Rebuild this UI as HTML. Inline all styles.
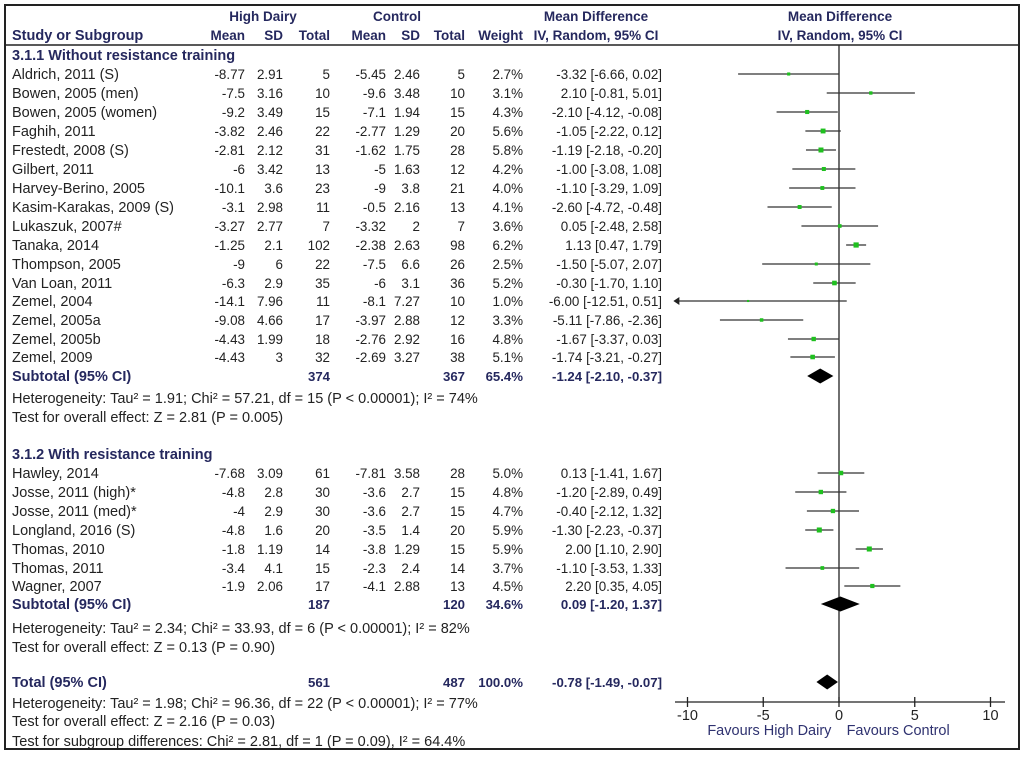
<!DOCTYPE html>
<html><head><meta charset="utf-8"><style>
html,body{margin:0;padding:0;background:#fff;}
svg{display:block;font-family:"Liberation Sans",Arial,sans-serif;font-size:14.5px;}
.t{fill:#222;}
.b{fill:#25285e;font-weight:bold;}
.n{fill:#25285e;font-weight:bold;font-size:13.5px;}
.num{fill:#222;font-size:13.4px;}
.bnum{fill:#25285e;font-weight:bold;font-size:13.2px;}
</style></head><body>
<svg id="chart" width="1024" height="757" viewBox="0 0 1024 757">
<rect x="5" y="5" width="1014" height="744" fill="none" stroke="#222" stroke-width="2"/>
<line x1="5" y1="45" x2="1019" y2="45" stroke="#222" stroke-width="1.5"/>
<g id="hdr">
<text class="n" x="263" y="21" text-anchor="middle">High Dairy</text>
<text class="n" x="397" y="21" text-anchor="middle">Control</text>
<text class="n" x="596" y="21" text-anchor="middle">Mean Difference</text>
<text class="n" x="840" y="21" text-anchor="middle">Mean Difference</text>
<text class="b" x="12" y="40">Study or Subgroup</text>
<text class="n" x="245" y="40" text-anchor="end">Mean</text>
<text class="n" x="283" y="40" text-anchor="end">SD</text>
<text class="n" x="330" y="40" text-anchor="end">Total</text>
<text class="n" x="386" y="40" text-anchor="end">Mean</text>
<text class="n" x="420" y="40" text-anchor="end">SD</text>
<text class="n" x="465" y="40" text-anchor="end">Total</text>
<text class="n" x="523" y="40" text-anchor="end">Weight</text>
<text class="n" x="596" y="40" text-anchor="middle">IV, Random, 95% CI</text>
<text class="n" x="840" y="40" text-anchor="middle">IV, Random, 95% CI</text>
<text class="b" x="12" y="60">3.1.1 Without resistance training</text>
<text class="b" x="12" y="459">3.1.2 With resistance training</text>
</g>
<g id="rows"></g>
<g id="plot"></g>
</svg>
<script>
const studies=["Aldrich, 2011 (S)","Bowen, 2005 (men)","Bowen, 2005 (women)","Faghih, 2011","Frestedt, 2008 (S)","Gilbert, 2011","Harvey-Berino, 2005","Kasim-Karakas, 2009 (S)","Lukaszuk, 2007#","Tanaka, 2014","Thompson, 2005","Van Loan, 2011","Zemel, 2004","Zemel, 2005a","Zemel, 2005b","Zemel, 2009","Hawley, 2014","Josse, 2011 (high)*","Josse, 2011 (med)*","Longland, 2016 (S)","Thomas, 2010","Thomas, 2011","Wagner, 2007"];
const hdMean=["-8.77","-7.5","-9.2","-3.82","-2.81","-6","-10.1","-3.1","-3.27","-1.25","-9","-6.3","-14.1","-9.08","-4.43","-4.43","-7.68","-4.8","-4","-4.8","-1.8","-3.4","-1.9"];
const hdSD=["2.91","3.16","3.49","2.46","2.12","3.42","3.6","2.98","2.77","2.1","6","2.9","7.96","4.66","1.99","3","3.09","2.8","2.9","1.6","1.19","4.1","2.06"];
const hdN=[5,10,15,22,31,13,23,11,7,102,22,35,11,17,18,32,61,30,30,20,14,15,17];
const cMean=["-5.45","-9.6","-7.1","-2.77","-1.62","-5","-9","-0.5","-3.32","-2.38","-7.5","-6","-8.1","-3.97","-2.76","-2.69","-7.81","-3.6","-3.6","-3.5","-3.8","-2.3","-4.1"];
const cSD=["2.46","3.48","1.94","1.29","1.75","1.63","3.8","2.16","2","2.63","6.6","3.1","7.27","2.88","2.92","3.27","3.58","2.7","2.7","1.4","1.29","2.4","2.88"];
const cN=[5,10,15,20,28,12,21,13,7,98,26,36,10,12,16,38,28,15,15,20,15,14,13];
const weights=[2.7,3.1,4.3,5.6,5.8,4.2,4.0,4.1,3.6,6.2,2.5,5.2,1.0,3.3,4.8,5.1,5.0,4.8,4.7,5.9,5.9,3.7,4.5];
const md=[-3.32,2.10,-2.10,-1.05,-1.19,-1.00,-1.10,-2.60,0.05,1.13,-1.50,-0.30,-6.00,-5.11,-1.67,-1.74,0.13,-1.20,-0.40,-1.30,2.00,-1.10,2.20];
const lo=[-6.66,-0.81,-4.12,-2.22,-2.18,-3.08,-3.29,-4.72,-2.48,0.47,-5.07,-1.70,-12.51,-7.86,-3.37,-3.21,-1.41,-2.89,-2.12,-2.23,1.10,-3.53,0.35];
const hi=[0.02,5.01,-0.08,0.12,-0.20,1.08,1.09,-0.48,2.58,1.79,2.07,1.10,0.51,-2.36,0.03,-0.27,1.67,0.49,1.32,-0.37,2.90,1.33,4.05];
const rowY=[79,98,117,136,155,174,193,212,231,250,269,288,306,325,344,362,478,497,516,535,554,573,591];
const pooledLabel=["Subtotal (95% CI)","Subtotal (95% CI)","Total (95% CI)"];
const pooledHdN=[374,187,561];
const pooledCN=[367,120,487];
const pooledW=["65.4%","34.6%","100.0%"];
const pooledMd=[-1.24,0.09,-0.78];
const pooledLo=[-2.10,-1.20,-1.49];
const pooledHi=[-0.37,1.37,-0.07];
const pooledY=[381,609,687];
const notes=["Heterogeneity: Tau² = 1.91; Chi² = 57.21, df = 15 (P < 0.00001); I² = 74%","Test for overall effect: Z = 2.81 (P = 0.005)","Heterogeneity: Tau² = 2.34; Chi² = 33.93, df = 6 (P < 0.00001); I² = 82%","Test for overall effect: Z = 0.13 (P = 0.90)","Heterogeneity: Tau² = 1.98; Chi² = 96.36, df = 22 (P < 0.00001); I² = 77%","Test for overall effect: Z = 2.16 (P = 0.03)","Test for subgroup differences: Chi² = 2.81, df = 1 (P = 0.09), I² = 64.4%"];
const noteY=[403,422,633,652,708,726,746];
const ticks=[-10,-5,0,5,10];
const NS="http://www.w3.org/2000/svg";
const X0=839, SC=15.15, XMIN=-10.8, XMAX=10.9, AXY=702;
const xs=v=>X0+v*SC;
const f2=v=>v.toFixed(2);
const ciTxt=(m,l,h)=>f2(m)+" ["+f2(l)+", "+f2(h)+"]";
function el(tag,attrs,parent,txt){const e=document.createElementNS(NS,tag);for(const k in attrs)e.setAttribute(k,attrs[k]);if(txt!==undefined)e.textContent=txt;parent.appendChild(e);return e;}
const rows=document.getElementById('rows'), plot=document.getElementById('plot');
function txt(x,y,s,anchor,cls,name){const e=el('text',{x:x,y:y,'text-anchor':anchor,'class':cls},rows,s);

return e;}
const zl=el('line',{x1:xs(0),y1:45,x2:xs(0),y2:AXY,stroke:'#222','stroke-width':1.3},plot);


studies.forEach((s,i)=>{const y=rowY[i];
txt(12,y,s,'start','t','study-name');
txt(245,y,hdMean[i],'end','num','hd-mean');
txt(283,y,hdSD[i],'end','num','hd-sd');
txt(330,y,hdN[i],'end','num','hd-total');
txt(386,y,cMean[i],'end','num','control-mean');
txt(420,y,cSD[i],'end','num','control-sd');
txt(465,y,cN[i],'end','num','control-total');
txt(523,y,weights[i].toFixed(1)+'%','end','num','weight');
txt(662,y,ciTxt(md[i],lo[i],hi[i]),'end','num','ci-text');
const cy=y-5;const l=Math.max(lo[i],XMIN),h=Math.min(hi[i],XMAX);
const ln=el('line',{x1:xs(l),y1:cy,x2:xs(h),y2:cy,stroke:'#333','stroke-width':1.3},plot);


if(lo[i]<XMIN){const a=el('polygon',{points:`${xs(XMIN)-2},${cy} ${xs(XMIN)+4},${cy-4} ${xs(XMIN)+4},${cy+4}`,fill:'#222'},plot);

}
const sz=1.5+weights[i]*0.6;
const sq=el('rect',{x:xs(md[i])-sz/2,y:cy-sz/2,width:sz,height:sz,fill:'#1fc01f'},plot);


});
pooledY.forEach((y,i)=>{
txt(12,y,pooledLabel[i],'start','b','pooled-label');
txt(330,y,pooledHdN[i],'end','bnum','pooled-hd-total');
txt(465,y,pooledCN[i],'end','bnum','pooled-control-total');
txt(523,y,pooledW[i],'end','bnum','pooled-weight');
txt(662,y,ciTxt(pooledMd[i],pooledLo[i],pooledHi[i]),'end','bnum','pooled-ci-text');
const cy=y-5;
const d=el('polygon',{points:`${xs(pooledLo[i])},${cy} ${xs(pooledMd[i])},${cy-7.5} ${xs(pooledHi[i])},${cy} ${xs(pooledMd[i])},${cy+7.5}`,fill:'#000'},plot);


});
notes.forEach((s,i)=>{txt(12,noteY[i],s,'start','t','stat-note');});
const ax=el('line',{x1:675,y1:AXY,x2:1005,y2:AXY,stroke:'#222','stroke-width':1.3},plot);


ticks.forEach(t=>{const tk=el('line',{x1:xs(t),y1:AXY-5,x2:xs(t),y2:AXY+5,stroke:'#222','stroke-width':1.3},plot);


const lb=el('text',{x:xs(t),y:AXY+18,'text-anchor':'middle','class':'t'},plot,String(t));

});
const f1=el('text',{x:xs(-0.5),y:735,'text-anchor':'end',fill:'#2f3270'},plot,'Favours High Dairy');


const f2l=el('text',{x:xs(0.5),y:735,'text-anchor':'start',fill:'#2f3270'},plot,'Favours Control');


</script>
</body></html>
